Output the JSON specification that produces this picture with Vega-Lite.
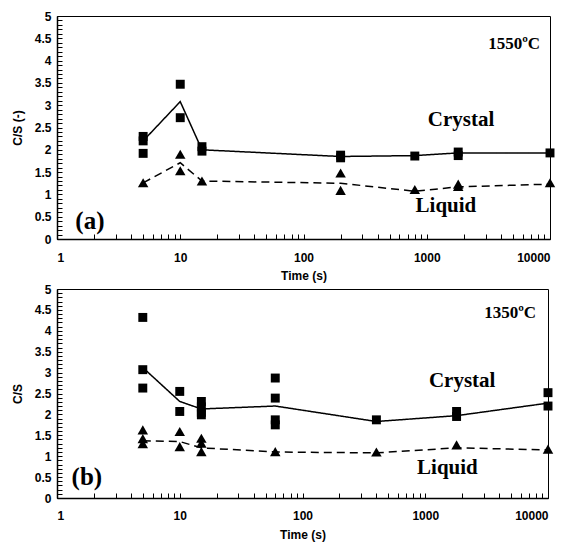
{
  "$schema": "https://vega.github.io/schema/vega-lite/v6.json",
  "background": "white",
  "padding": {"left": 10, "top": 9, "right": 10, "bottom": 5},
  "spacing": 0,
  "config": {
    "view": {"stroke": "black", "strokeWidth": 1},
    "font": "Liberation Sans",
    "axis": {"grid": false, "domainColor": "black", "domainWidth": 1.5, "tickColor": "black", "tickWidth": 1, "labelColor": "black", "titleColor": "black", "labelFont": "Liberation Sans", "titleFont": "Liberation Sans", "labelFontSize": 12, "labelFontWeight": "bold", "titleFontSize": 12, "titleFontWeight": "bold"}
  },
  "datasets": {
    "pts": [
      {"panel": "a", "series": "Crystal", "time": 5, "cs": 2.3},
      {"panel": "a", "series": "Crystal", "time": 5, "cs": 2.2},
      {"panel": "a", "series": "Crystal", "time": 5, "cs": 1.92},
      {"panel": "a", "series": "Crystal", "time": 10, "cs": 3.47},
      {"panel": "a", "series": "Crystal", "time": 10, "cs": 2.72},
      {"panel": "a", "series": "Crystal", "time": 15, "cs": 2.07},
      {"panel": "a", "series": "Crystal", "time": 15, "cs": 1.97},
      {"panel": "a", "series": "Crystal", "time": 200, "cs": 1.88},
      {"panel": "a", "series": "Crystal", "time": 200, "cs": 1.82},
      {"panel": "a", "series": "Crystal", "time": 800, "cs": 1.86},
      {"panel": "a", "series": "Crystal", "time": 1800, "cs": 1.95},
      {"panel": "a", "series": "Crystal", "time": 1800, "cs": 1.87},
      {"panel": "a", "series": "Crystal", "time": 10000, "cs": 1.93},
      {"panel": "a", "series": "Liquid", "time": 5, "cs": 1.26},
      {"panel": "a", "series": "Liquid", "time": 10, "cs": 1.9},
      {"panel": "a", "series": "Liquid", "time": 10, "cs": 1.53},
      {"panel": "a", "series": "Liquid", "time": 15, "cs": 1.3},
      {"panel": "a", "series": "Liquid", "time": 200, "cs": 1.48},
      {"panel": "a", "series": "Liquid", "time": 200, "cs": 1.09},
      {"panel": "a", "series": "Liquid", "time": 800, "cs": 1.11},
      {"panel": "a", "series": "Liquid", "time": 1800, "cs": 1.23},
      {"panel": "a", "series": "Liquid", "time": 1800, "cs": 1.18},
      {"panel": "a", "series": "Liquid", "time": 10000, "cs": 1.26},
      {"panel": "b", "series": "Crystal", "time": 5, "cs": 4.32},
      {"panel": "b", "series": "Crystal", "time": 5, "cs": 3.07},
      {"panel": "b", "series": "Crystal", "time": 5, "cs": 2.63},
      {"panel": "b", "series": "Crystal", "time": 10, "cs": 2.55},
      {"panel": "b", "series": "Crystal", "time": 10, "cs": 2.07},
      {"panel": "b", "series": "Crystal", "time": 15, "cs": 2.31},
      {"panel": "b", "series": "Crystal", "time": 15, "cs": 2.18},
      {"panel": "b", "series": "Crystal", "time": 15, "cs": 2.05},
      {"panel": "b", "series": "Crystal", "time": 15, "cs": 1.99},
      {"panel": "b", "series": "Crystal", "time": 60, "cs": 2.87},
      {"panel": "b", "series": "Crystal", "time": 60, "cs": 2.39},
      {"panel": "b", "series": "Crystal", "time": 60, "cs": 1.87},
      {"panel": "b", "series": "Crystal", "time": 60, "cs": 1.75},
      {"panel": "b", "series": "Crystal", "time": 400, "cs": 1.87},
      {"panel": "b", "series": "Crystal", "time": 1800, "cs": 2.07},
      {"panel": "b", "series": "Crystal", "time": 1800, "cs": 1.95},
      {"panel": "b", "series": "Crystal", "time": 10000, "cs": 2.52},
      {"panel": "b", "series": "Crystal", "time": 10000, "cs": 2.2},
      {"panel": "b", "series": "Liquid", "time": 5, "cs": 1.63},
      {"panel": "b", "series": "Liquid", "time": 5, "cs": 1.42},
      {"panel": "b", "series": "Liquid", "time": 5, "cs": 1.3},
      {"panel": "b", "series": "Liquid", "time": 10, "cs": 1.59},
      {"panel": "b", "series": "Liquid", "time": 10, "cs": 1.23},
      {"panel": "b", "series": "Liquid", "time": 15, "cs": 1.43},
      {"panel": "b", "series": "Liquid", "time": 15, "cs": 1.31},
      {"panel": "b", "series": "Liquid", "time": 15, "cs": 1.11},
      {"panel": "b", "series": "Liquid", "time": 60, "cs": 1.11},
      {"panel": "b", "series": "Liquid", "time": 400, "cs": 1.1},
      {"panel": "b", "series": "Liquid", "time": 1800, "cs": 1.27},
      {"panel": "b", "series": "Liquid", "time": 10000, "cs": 1.17}
    ],
    "avg": [
      {"panel": "a", "series": "Crystal", "time": 5, "cs": 2.2},
      {"panel": "a", "series": "Crystal", "time": 10, "cs": 3.08},
      {"panel": "a", "series": "Crystal", "time": 15, "cs": 2.0},
      {"panel": "a", "series": "Crystal", "time": 200, "cs": 1.85},
      {"panel": "a", "series": "Crystal", "time": 800, "cs": 1.87},
      {"panel": "a", "series": "Crystal", "time": 1800, "cs": 1.93},
      {"panel": "a", "series": "Crystal", "time": 10000, "cs": 1.93},
      {"panel": "a", "series": "Liquid", "time": 5, "cs": 1.26},
      {"panel": "a", "series": "Liquid", "time": 10, "cs": 1.71},
      {"panel": "a", "series": "Liquid", "time": 15, "cs": 1.3},
      {"panel": "a", "series": "Liquid", "time": 200, "cs": 1.25},
      {"panel": "a", "series": "Liquid", "time": 800, "cs": 1.07},
      {"panel": "a", "series": "Liquid", "time": 1800, "cs": 1.17},
      {"panel": "a", "series": "Liquid", "time": 10000, "cs": 1.23},
      {"panel": "b", "series": "Crystal", "time": 5, "cs": 3.12},
      {"panel": "b", "series": "Crystal", "time": 10, "cs": 2.31},
      {"panel": "b", "series": "Crystal", "time": 15, "cs": 2.13},
      {"panel": "b", "series": "Crystal", "time": 60, "cs": 2.2},
      {"panel": "b", "series": "Crystal", "time": 400, "cs": 1.83},
      {"panel": "b", "series": "Crystal", "time": 1800, "cs": 1.97},
      {"panel": "b", "series": "Crystal", "time": 10000, "cs": 2.27},
      {"panel": "b", "series": "Liquid", "time": 5, "cs": 1.37},
      {"panel": "b", "series": "Liquid", "time": 10, "cs": 1.35},
      {"panel": "b", "series": "Liquid", "time": 15, "cs": 1.2},
      {"panel": "b", "series": "Liquid", "time": 60, "cs": 1.1},
      {"panel": "b", "series": "Liquid", "time": 400, "cs": 1.08},
      {"panel": "b", "series": "Liquid", "time": 1800, "cs": 1.2},
      {"panel": "b", "series": "Liquid", "time": 10000, "cs": 1.15}
    ],
    "labels": [
      {"panel": "a", "kind": "temp", "time": 8300, "cs": 4.37, "text": "1550ºC"},
      {"panel": "a", "kind": "series", "time": 1900, "cs": 2.67, "text": "Crystal"},
      {"panel": "a", "kind": "series", "time": 1430, "cs": 0.74, "text": "Liquid"},
      {"panel": "a", "kind": "tag", "time": 1.85, "cs": 0.4, "text": "(a)"},
      {"panel": "b", "kind": "temp", "time": 8000, "cs": 4.43, "text": "1350ºC"},
      {"panel": "b", "kind": "series", "time": 2000, "cs": 2.8, "text": "Crystal"},
      {"panel": "b", "kind": "series", "time": 1515, "cs": 0.72, "text": "Liquid"},
      {"panel": "b", "kind": "tag", "time": 1.75, "cs": 0.5, "text": "(b)"}
    ]
  },
  "vconcat": [
    {
      "width": 493,
      "height": 223,
      "encoding": {
        "x": {"field": "time", "type": "quantitative", "scale": {"type": "log", "domain": [1, 10000]},
          "axis": {"title": "Time (s)", "values": [1,2,3,4,5,6,7,8,9,10,20,30,40,50,60,70,80,90,100,200,300,400,500,600,700,800,900,1000,2000,3000,4000,5000,6000,7000,8000,9000,10000], "labelExpr": "indexof([1,10,100,1000,10000], datum.value) >= 0 ? format(datum.value, 'd') : ''", "tickSize": -5, "labelPadding": 18, "titlePadding": 7}},
        "y": {"field": "cs", "type": "quantitative", "scale": {"domain": [0, 5]},
          "axis": {"title": "C/S (-)", "values": [0,0.1,0.2,0.3,0.4,0.5,0.6,0.7,0.8,0.9,1,1.1,1.2,1.3,1.4,1.5,1.6,1.7,1.8,1.9,2,2.1,2.2,2.3,2.4,2.5,2.6,2.7,2.8,2.9,3,3.1,3.2,3.3,3.4,3.5,3.6,3.7,3.8,3.9,4,4.1,4.2,4.3,4.4,4.5,4.6,4.7,4.8,4.9,5], "labelExpr": "abs(datum.value*2 - round(datum.value*2)) < 0.001 ? format(datum.value, '.1~f') : ''", "tickSize": -5, "labelPadding": 11, "titlePadding": 10}}
      },
      "layer": [
        {"data": {"name": "avg"}, "transform": [{"filter": "datum.panel == 'a'"}], "mark": {"type": "line", "color": "black", "strokeWidth": 1.5}, "encoding": {"detail": {"field": "series"}, "strokeDash": {"field": "series", "type": "nominal", "scale": {"domain": ["Crystal", "Liquid"], "range": [[1, 0], [8, 5]]}, "legend": null}}},
        {"data": {"name": "pts"}, "transform": [{"filter": "datum.panel == 'a'"}], "mark": {"type": "point", "filled": true, "color": "black", "opacity": 1}, "encoding": {"shape": {"field": "series", "type": "nominal", "scale": {"domain": ["Crystal", "Liquid"], "range": ["square", "triangle-up"]}, "legend": null}, "size": {"field": "series", "type": "nominal", "scale": {"domain": ["Crystal", "Liquid"], "range": [80, 110]}, "legend": null}}},
        {"data": {"name": "labels"}, "transform": [{"filter": "datum.panel == 'a' && datum.kind == 'temp'"}], "mark": {"type": "text", "font": "Liberation Serif", "fontWeight": "bold", "fontSize": 17, "align": "right", "color": "black"}, "encoding": {"text": {"field": "text"}}},
        {"data": {"name": "labels"}, "transform": [{"filter": "datum.panel == 'a' && datum.kind == 'series'"}], "mark": {"type": "text", "font": "Liberation Serif", "fontWeight": "bold", "fontSize": 21, "align": "center", "color": "black"}, "encoding": {"text": {"field": "text"}}},
        {"data": {"name": "labels"}, "transform": [{"filter": "datum.panel == 'a' && datum.kind == 'tag'"}], "mark": {"type": "text", "font": "Liberation Serif", "fontWeight": "bold", "fontSize": 25, "align": "center", "color": "black"}, "encoding": {"text": {"field": "text"}}}
      ]
    },
    {
      "width": 491,
      "height": 209,
      "encoding": {
        "x": {"field": "time", "type": "quantitative", "scale": {"type": "log", "domain": [1, 10000]},
          "axis": {"title": "Time (s)", "values": [1,2,3,4,5,6,7,8,9,10,20,30,40,50,60,70,80,90,100,200,300,400,500,600,700,800,900,1000,2000,3000,4000,5000,6000,7000,8000,9000,10000], "labelExpr": "indexof([1,10,100,1000,10000], datum.value) >= 0 ? format(datum.value, 'd') : ''", "tickSize": -5, "labelPadding": 17, "titlePadding": 8}},
        "y": {"field": "cs", "type": "quantitative", "scale": {"domain": [0, 5]},
          "axis": {"title": "C/S", "values": [0,0.1,0.2,0.3,0.4,0.5,0.6,0.7,0.8,0.9,1,1.1,1.2,1.3,1.4,1.5,1.6,1.7,1.8,1.9,2,2.1,2.2,2.3,2.4,2.5,2.6,2.7,2.8,2.9,3,3.1,3.2,3.3,3.4,3.5,3.6,3.7,3.8,3.9,4,4.1,4.2,4.3,4.4,4.5,4.6,4.7,4.8,4.9,5], "labelExpr": "abs(datum.value*2 - round(datum.value*2)) < 0.001 ? format(datum.value, '.1~f') : ''", "tickSize": -5, "labelPadding": 11, "titlePadding": 10}}
      },
      "layer": [
        {"data": {"name": "avg"}, "transform": [{"filter": "datum.panel == 'b'"}], "mark": {"type": "line", "color": "black", "strokeWidth": 1.5}, "encoding": {"detail": {"field": "series"}, "strokeDash": {"field": "series", "type": "nominal", "scale": {"domain": ["Crystal", "Liquid"], "range": [[1, 0], [8, 5]]}, "legend": null}}},
        {"data": {"name": "pts"}, "transform": [{"filter": "datum.panel == 'b'"}], "mark": {"type": "point", "filled": true, "color": "black", "opacity": 1}, "encoding": {"shape": {"field": "series", "type": "nominal", "scale": {"domain": ["Crystal", "Liquid"], "range": ["square", "triangle-up"]}, "legend": null}, "size": {"field": "series", "type": "nominal", "scale": {"domain": ["Crystal", "Liquid"], "range": [80, 110]}, "legend": null}}},
        {"data": {"name": "labels"}, "transform": [{"filter": "datum.panel == 'b' && datum.kind == 'temp'"}], "mark": {"type": "text", "font": "Liberation Serif", "fontWeight": "bold", "fontSize": 17, "align": "right", "color": "black"}, "encoding": {"text": {"field": "text"}}},
        {"data": {"name": "labels"}, "transform": [{"filter": "datum.panel == 'b' && datum.kind == 'series'"}], "mark": {"type": "text", "font": "Liberation Serif", "fontWeight": "bold", "fontSize": 21, "align": "center", "color": "black"}, "encoding": {"text": {"field": "text"}}},
        {"data": {"name": "labels"}, "transform": [{"filter": "datum.panel == 'b' && datum.kind == 'tag'"}], "mark": {"type": "text", "font": "Liberation Serif", "fontWeight": "bold", "fontSize": 25, "align": "center", "color": "black"}, "encoding": {"text": {"field": "text"}}}
      ]
    }
  ]
}
